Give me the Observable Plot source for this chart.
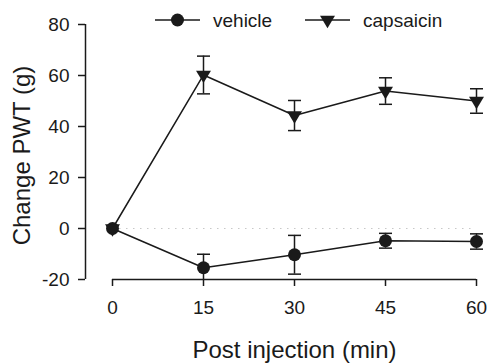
<!DOCTYPE html>
<html>
<head>
<meta charset="utf-8">
<script src="https://cdn.jsdelivr.net/npm/d3@7"></script>
<script src="https://cdn.jsdelivr.net/npm/@observablehq/plot@0.6"></script>
<style>
  html, body { margin: 0; padding: 0; background: #fff; }
  #wrap { position: relative; width: 489px; height: 364px; font-family: "Liberation Sans", Arial, sans-serif; }
  #legend { position: absolute; left: 0; top: 0; }
</style>
</head>
<body>
<div id="wrap"></div>
<script>
// ---- data ----
const times = [0, 15, 30, 45, 60];
const seriesNames = ["vehicle", "capsaicin"];
const vehicleMean = [0, -15.4, -10.3, -4.8, -5.1];
const vehicleSE   = [0, 5.3, 7.6, 2.9, 3.0];
const capsaicinMean = [0, 60.2, 44.3, 53.9, 50.0];
const capsaicinSE   = [0, 7.4, 5.9, 5.2, 4.8];
const xTicks = [0, 15, 30, 45, 60];
const yTicks = [-20, 0, 20, 40, 60, 80];
const xLabel = "Post injection (min)";
const yLabel = "Change PWT (g)";

const yMin = yTicks[0], yMax = yTicks[yTicks.length - 1];
const rows = [];
[[seriesNames[0], vehicleMean, vehicleSE], [seriesNames[1], capsaicinMean, capsaicinSE]].forEach(([name, m, s]) => {
  times.forEach((t, i) => rows.push({series: name, t, mean: m[i], se: s[i],
    lo: Math.max(m[i] - s[i], yMin), hi: m[i] + s[i]}));
});
const bars = rows.filter(d => d.se > 0);

// custom symbols
const triDown = {draw(ctx, size) { const r = Math.sqrt(size / Math.PI);
  ctx.moveTo(-r * 1.15, -r * 0.65); ctx.lineTo(r * 1.15, -r * 0.65); ctx.lineTo(0, r * 1.25); ctx.closePath(); }};
const capSym = {draw(ctx, size) { const r = Math.sqrt(size / Math.PI);
  ctx.moveTo(-r, 0); ctx.lineTo(r, 0); }};

const ink = "#1a1a1a";
const insetL = 27;
const fmt = d => String(d);

const chart = Plot.plot({
  width: 489, height: 364,
  marginLeft: 85, marginRight: 13, marginTop: 24, marginBottom: 85,
  insetLeft: insetL,
  style: {fontFamily: "Liberation Sans, Arial, sans-serif", color: ink, background: "#fff"},
  x: {domain: [xTicks[0], xTicks[xTicks.length - 1]]},
  y: {domain: [yMin, yMax]},
  marks: [
    Plot.ruleY([0], {x1: xTicks[0], x2: xTicks[xTicks.length - 1], stroke: "#c8c8c8", strokeWidth: 1.2, strokeDasharray: "1.5,5.5"}),
    Plot.axisY({ticks: yTicks, tickFormat: fmt, tickSize: 7, tickPadding: 9, fontSize: 19, label: null, stroke: ink, strokeWidth: 1.5, color: ink}),
    Plot.axisX({ticks: xTicks, tickFormat: fmt, tickSize: 7, tickPadding: 14, fontSize: 19, label: null, stroke: ink, strokeWidth: 1.5, color: ink}),
    Plot.ruleX([xTicks[0]], {y1: yMin, y2: yMax, dx: -insetL, stroke: ink, strokeWidth: 1.5}),
    Plot.ruleY([yMin], {x1: xTicks[0], x2: xTicks[xTicks.length - 1], stroke: ink, strokeWidth: 1.5}),
    Plot.line(rows, {x: "t", y: "mean", z: "series", stroke: ink, strokeWidth: 1.5}),
    Plot.ruleX(bars, {x: "t", y1: "lo", y2: "hi", stroke: ink, strokeWidth: 1.5}),
    Plot.dot(bars, {x: "t", y: "hi", symbol: capSym, r: 6.5, fill: "none", stroke: ink, strokeWidth: 1.5}),
    Plot.dot(bars.filter(d => d.lo > yMin), {x: "t", y: "lo", symbol: capSym, r: 6.5, fill: "none", stroke: ink, strokeWidth: 1.5}),
    Plot.dot(rows.filter(d => d.series === seriesNames[0]), {x: "t", y: "mean", symbol: "circle", r: 6.5, fill: ink, stroke: "none"}),
    Plot.dot(rows.filter(d => d.series === seriesNames[1]), {x: "t", y: "mean", symbol: triDown, r: 6.5, fill: ink, stroke: "none"}),
    Plot.text([xLabel], {frameAnchor: "bottom", textAnchor: "middle", lineAnchor: "middle", dx: insetL / 2, dy: 71, fontSize: 24, fill: ink}),
    Plot.text([yLabel], {frameAnchor: "left", textAnchor: "middle", lineAnchor: "middle", rotate: -90, dx: -63.5, dy: 3.5, fontSize: 24, fill: ink})
  ]
});
document.getElementById("wrap").appendChild(chart);

// ---- legend (overlay, top) ----
const leg = d3.select("#wrap").append("svg").attr("id", "legend").attr("width", 489).attr("height", 40);
const items = [
  {name: seriesNames[0], x0: 155, sym: d3.symbolCircle},
  {name: seriesNames[1], x0: 305, sym: triDown}
];
items.forEach(it => {
  const g = leg.append("g").attr("transform", `translate(${it.x0},20)`);
  g.append("line").attr("x1", 0).attr("x2", 45).attr("stroke", ink).attr("stroke-width", 1.5);
  g.append("path").attr("d", d3.symbol(it.sym, Math.PI * 6.5 * 6.5)()).attr("transform", "translate(22.5,0)").attr("fill", ink);
  g.append("text").attr("x", 58).attr("y", 0).attr("dy", "0.35em").attr("font-size", 19)
    .attr("font-family", "Liberation Sans, Arial, sans-serif").attr("fill", ink).text(it.name);
});
</script>
</body>
</html>
